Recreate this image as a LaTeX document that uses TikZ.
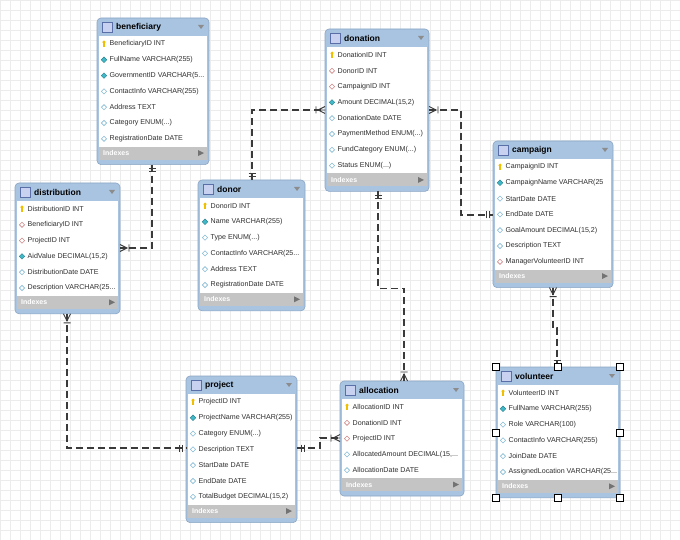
\documentclass[tikz,border=0pt]{standalone}
\usepackage{fontspec}
\setmainfont{Liberation Sans}
\usetikzlibrary{calc}
\definecolor{hdr}{HTML}{A9C4E1}
\definecolor{hdrborder}{HTML}{8AA5C4}
\definecolor{idx}{HTML}{C4C4C4}
\definecolor{gridc}{HTML}{ECECEC}
\definecolor{linec}{HTML}{3A3A3A}
\definecolor{txt}{HTML}{2E2E2E}
\definecolor{keyc}{HTML}{F0C000}
\definecolor{nnc}{HTML}{3FB8C8}
\definecolor{nullc}{HTML}{86BCD4}
\definecolor{fkc}{HTML}{D08888}
\definecolor{iconc}{HTML}{C8D2F0}
\definecolor{iconb}{HTML}{5A6FA8}

\tikzset{
  tablebox/.style={rectangle, inner sep=0pt, outer sep=0pt, draw=none},
  rowtext/.style={anchor=west, inner sep=0pt, text=txt, font=\fontsize{7.1}{8}\selectfont},
  titletext/.style={anchor=west, inner sep=0pt, text=black, font=\bfseries\fontsize{8.5}{9}\selectfont},
  idxtext/.style={anchor=west, inner sep=0pt, text=white, font=\bfseries\fontsize{7}{8}\selectfont},
  rel/.style={draw=linec, line width=1.1pt, dash pattern=on 7pt off 4pt},
  markline/.style={draw=linec, line width=0.9pt, solid},
  handle/.style={fill=white, draw=black, line width=0.7pt},
  pics/crowmany/.style={code={
    \draw[markline] (0,-3.5) -- (7,0) -- (0,3.5) (0,0) -- (7,0) (9,-3.5) -- (9,3.5);}},
  pics/crowone/.style={code={
    \draw[markline] (4,-3.5) -- (4,3.5) (7,-3.5) -- (7,3.5);}},
  pics/keyicon/.style={code={
    \fill[keyc] (0,-1.8) circle (1.7);
    \fill[keyc] (-0.7,-1.5) rectangle (0.7,3);}},
  pics/nnicon/.style={code={
    \filldraw[draw=nnc!70!black, fill=nnc, line width=0.4pt] (0,-2.8) -- (2.8,0) -- (0,2.8) -- (-2.8,0) -- cycle;}},
  pics/nullicon/.style={code={
    \filldraw[draw=nullc, fill=white, line width=0.6pt] (0,-2.6) -- (2.6,0) -- (0,2.6) -- (-2.6,0) -- cycle;}},
  pics/fkicon/.style={code={
    \filldraw[draw=fkc, fill=white, line width=0.6pt] (0,-2.6) -- (2.6,0) -- (0,2.6) -- (-2.6,0) -- cycle;}},
}

% #1 name, #2 x, #3 y, #4 width, #5 number of rows, #6 title
\newcommand{\ertab}[6]{%
  \pgfmathsetmacro{\erH}{#5*15.8+36}%
  \pgfmathsetmacro{\erB}{#5*15.8+18}%
  \xdef\curx{#2}\xdef\cury{#3}\xdef\curw{#4}%
  \node[tablebox, minimum width=#4pt, minimum height=\erH pt, anchor=north west] (#1) at (#2,#3) {};
  \filldraw[draw=hdrborder, fill=hdr, rounded corners=4pt, line width=0.6pt] (#2,#3) rectangle ++(#4,\erH);
  \fill[white] (#2+2,#3+18) rectangle (#2+#4-2,#3+\erB);
  \fill[idx] (#2+2,#3+\erB) rectangle (#2+#4-2,#3+\erB+13);
  \node[idxtext] at (#2+6,#3+\erB+6.5) {Indexes};
  \fill[black!55] (#2+#4-11,#3+\erB+3.5) -- (#2+#4-5,#3+\erB+6.5) -- (#2+#4-11,#3+\erB+9.5) -- cycle;
  \filldraw[draw=iconb, fill=iconc, line width=0.6pt] (#2+5,#3+4) rectangle ++(10,10);
  \node[titletext] at (#2+19,#3+9.5) {#6};
  \fill[black!45] (#2+#4-11,#3+7) -- (#2+#4-5,#3+7) -- (#2+#4-8,#3+11) -- cycle;
}
% #1 row index, #2 icon, #3 text
\newcommand{\errow}[3]{%
  \pgfmathsetmacro{\erY}{\cury+26+(#1-1)*15.8}%
  \pic at (\curx+7,\erY) {#2icon};
  \node[rowtext] at (\curx+12.5,\erY) {#3};
}

\begin{document}
\begin{tikzpicture}[x=1pt,y=-1pt]
\useasboundingbox (0,0) rectangle (680,540);
\fill[white] (0,0) rectangle (680,540);
\foreach \i in {0,10,...,680} \draw[gridc, line width=0.4pt] (\i,0) -- (\i,540);
\foreach \j in {0,10,...,540} \draw[gridc, line width=0.4pt] (0,\j) -- (680,\j);

% ---------- tables ----------
\ertab{beneficiary}{97}{18}{112}{7}{beneficiary}
\errow{1}{key}{BeneficiaryID INT}
\errow{2}{nn}{FullName VARCHAR(255)}
\errow{3}{nn}{GovernmentID VARCHAR(5...}
\errow{4}{null}{ContactInfo VARCHAR(255)}
\errow{5}{null}{Address TEXT}
\errow{6}{null}{Category ENUM(...)}
\errow{7}{null}{RegistrationDate DATE}

\ertab{donation}{325}{29}{104}{8}{donation}
\errow{1}{key}{DonationID INT}
\errow{2}{fk}{DonorID INT}
\errow{3}{fk}{CampaignID INT}
\errow{4}{nn}{Amount DECIMAL(15,2)}
\errow{5}{null}{DonationDate DATE}
\errow{6}{null}{PaymentMethod ENUM(...)}
\errow{7}{null}{FundCategory ENUM(...)}
\errow{8}{null}{Status ENUM(...)}

\ertab{campaign}{493}{141}{120}{7}{campaign}
\errow{1}{key}{CampaignID INT}
\errow{2}{nn}{CampaignName VARCHAR(25}
\errow{3}{null}{StartDate DATE}
\errow{4}{null}{EndDate DATE}
\errow{5}{null}{GoalAmount DECIMAL(15,2)}
\errow{6}{null}{Description TEXT}
\errow{7}{fk}{ManagerVolunteerID INT}

\ertab{distribution}{15}{183}{105}{6}{distribution}
\errow{1}{key}{DistributionID INT}
\errow{2}{fk}{BeneficiaryID INT}
\errow{3}{fk}{ProjectID INT}
\errow{4}{nn}{AidValue DECIMAL(15,2)}
\errow{5}{null}{DistributionDate DATE}
\errow{6}{null}{Description VARCHAR(25...}

\ertab{donor}{198}{180}{107}{6}{donor}
\errow{1}{key}{DonorID INT}
\errow{2}{nn}{Name VARCHAR(255)}
\errow{3}{null}{Type ENUM(...)}
\errow{4}{null}{ContactInfo VARCHAR(25...}
\errow{5}{null}{Address TEXT}
\errow{6}{null}{RegistrationDate DATE}

\ertab{project}{186}{376}{111}{7}{project}
\errow{1}{key}{ProjectID INT}
\errow{2}{nn}{ProjectName VARCHAR(255)}
\errow{3}{null}{Category ENUM(...)}
\errow{4}{null}{Description TEXT}
\errow{5}{null}{StartDate DATE}
\errow{6}{null}{EndDate DATE}
\errow{7}{null}{TotalBudget DECIMAL(15,2)}

\ertab{allocation}{340}{381}{124}{5}{allocation}
\errow{1}{key}{AllocationID INT}
\errow{2}{fk}{DonationID INT}
\errow{3}{fk}{ProjectID INT}
\errow{4}{null}{AllocatedAmount DECIMAL(15,...}
\errow{5}{null}{AllocationDate DATE}

\ertab{volunteer}{496}{367}{124}{6}{volunteer}
\errow{1}{key}{VolunteerID INT}
\errow{2}{nn}{FullName VARCHAR(255)}
\errow{3}{null}{Role VARCHAR(100)}
\errow{4}{null}{ContactInfo VARCHAR(255)}
\errow{5}{null}{JoinDate DATE}
\errow{6}{null}{AssignedLocation VARCHAR(25...}

% ---------- relationships ----------
% beneficiary 1 -- n distribution
\coordinate (r1a) at ($(beneficiary.south west)+(55,0)$);
\coordinate (r1b) at ($(distribution.north east)+(0,65)$);
\draw[rel] (r1a) |- (r1b);
\pic[rotate=-90] at (r1a) {crowone};
\pic at (r1b) {crowmany};

% donor 1 -- n donation
\coordinate (r2a) at ($(donor.north west)+(54,0)$);
\coordinate (r2b) at ($(donation.north west)+(0,81)$);
\draw[rel] (r2a) |- (r2b);
\pic[rotate=90] at (r2a) {crowone};
\pic[rotate=180] at (r2b) {crowmany};

% campaign 1 -- n donation
\coordinate (r3a) at ($(donation.north east)+(0,81)$);
\coordinate (r3b) at ($(campaign.north west)+(0,74)$);
\draw[rel] (r3a) -- ++(32,0) |- (r3b);
\pic at (r3a) {crowmany};
\pic[rotate=180] at (r3b) {crowone};

% volunteer 1 -- n campaign
\coordinate (r4a) at ($(campaign.south west)+(60,0)$);
\coordinate (r4b) at ($(volunteer.north west)+(61,0)$);
\draw[rel] (r4a) -- ++(0,40) -| (r4b);
\pic[rotate=-90] at (r4a) {crowmany};
\pic[rotate=90] at (r4b) {crowone};

% project 1 -- n distribution
\coordinate (r5a) at ($(distribution.south west)+(52,0)$);
\coordinate (r5b) at ($(project.north west)+(0,72)$);
\draw[rel] (r5a) |- (r5b);
\pic[rotate=-90] at (r5a) {crowmany};
\pic[rotate=180] at (r5b) {crowone};

% donation 1 -- n allocation
\coordinate (r6a) at ($(donation.south west)+(53,0)$);
\coordinate (r6b) at ($(allocation.north west)+(64,0)$);
\draw[rel] (r6a) -- ++(0,97) -| (r6b);
\pic[rotate=-90] at (r6a) {crowone};
\pic[rotate=90] at (r6b) {crowmany};

% project 1 -- n allocation
\coordinate (r7a) at ($(project.north east)+(0,72)$);
\coordinate (r7b) at ($(allocation.north west)+(0,57)$);
\draw[rel] (r7a) -- ++(23,0) |- (r7b);
\pic at (r7a) {crowone};
\pic[rotate=180] at (r7b) {crowmany};

% selection handles on volunteer
\foreach \a in {north west,north,north east,west,east,south west,south,south east}
  \filldraw[handle] ($(volunteer.\a)+(-3.5,-3.5)$) rectangle ++(7,7);
\end{tikzpicture}
\end{document}
